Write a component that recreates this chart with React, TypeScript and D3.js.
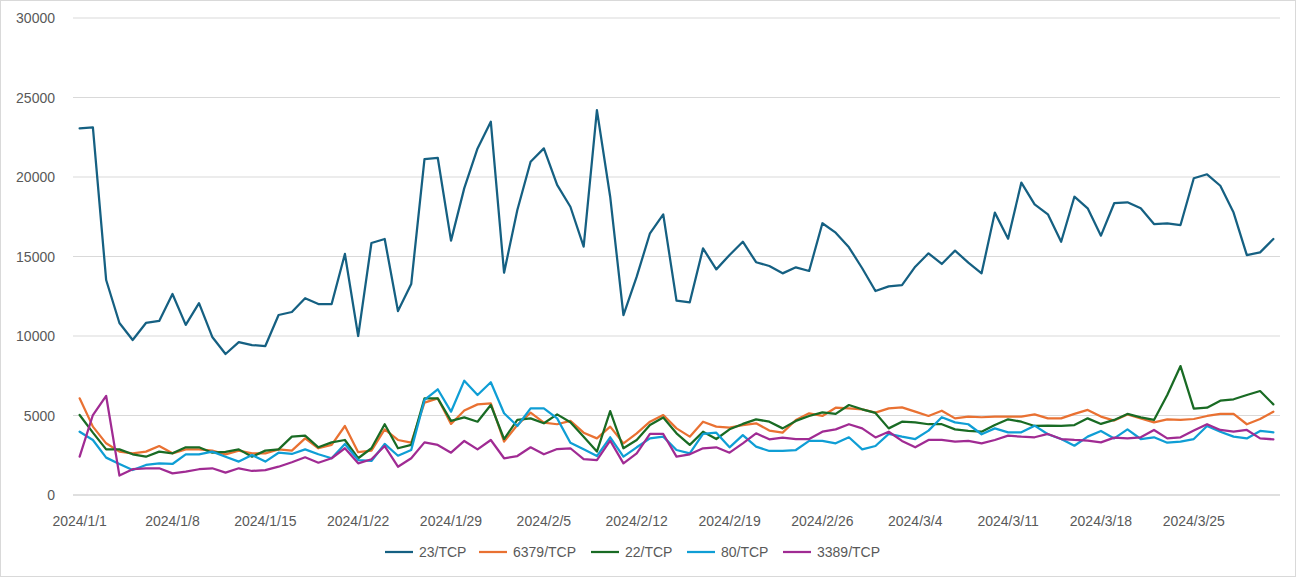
import React from 'react';
import * as d3 from 'd3';

const SERIES_NAMES = ['23/TCP', '6379/TCP', '22/TCP', '80/TCP', '3389/TCP'];
const COLORS = ['#156082', '#E97132', '#196B24', '#0F9ED5', '#A02B93'];

const tcp23 = [
  23060, 23120, 13520, 10820, 9750, 10820, 10950, 12640, 10700, 12070,
  9940, 8870, 9620, 9430, 9370, 11320, 11510, 12380, 12010, 12010,
  15160, 10000, 15850, 16100, 11570, 13270, 21130, 21210, 16000, 19300,
  21800, 23480, 13980, 17920, 20960, 21800, 19500, 18130, 15620, 24210,
  18760, 11320, 13730, 16460, 17650, 12220, 12120, 15510, 14190, 15090,
  15930, 14640, 14400, 13940, 14320, 14090, 17090, 16500, 15580, 14260,
  12830, 13120, 13200, 14360, 15200, 14530, 15370, 14610, 13940, 17760,
  16120, 19650, 18280, 17650, 15930, 18760, 18030, 16310, 18350, 18410,
  18030, 17040, 17090, 16980, 19920, 20170, 19450, 17760, 15090, 15260,
  16100,
];
const tcp6379 = [
  6080, 4300, 3250, 2730, 2620, 2730, 3080, 2620, 2870, 2870,
  2790, 2560, 2790, 2620, 2620, 2870, 2790, 3560, 2940, 3150,
  4340, 2690, 2790, 4130, 3460, 3290, 5810, 6080, 4470, 5310,
  5700, 5770, 3360, 4400, 5180, 4550, 4450, 4660, 3920, 3560,
  4300, 3250, 3880, 4610, 5030, 4190, 3670, 4610, 4300, 4240,
  4400, 4510, 4050, 3920, 4720, 5140, 4970, 5490, 5450, 5390,
  5180, 5450, 5510, 5240, 4970, 5300, 4820, 4930, 4890, 4930,
  4930, 4930, 5070, 4820, 4820, 5100, 5350, 4930, 4680, 5070,
  4820, 4570, 4760, 4720, 4780, 4970, 5100, 5100, 4450, 4780,
  5240,
];
const tcp22 = [
  5030, 3920, 2870, 2870, 2560, 2410, 2730, 2620, 3000, 3000,
  2660, 2710, 2870, 2410, 2790, 2870, 3670, 3730, 3000, 3310,
  3460, 2310, 2940, 4450, 2940, 3150, 6080, 6080, 4660, 4880,
  4610, 5660, 3520, 4720, 4820, 4510, 5070, 4570, 3670, 2730,
  5280, 2940, 3460, 4400, 4880, 3880, 3150, 3980, 3520, 4130,
  4470, 4760, 4610, 4190, 4660, 4970, 5200, 5100, 5660, 5390,
  5160, 4190, 4610, 4570, 4450, 4450, 4130, 4030, 3980, 4400,
  4760, 4610, 4340, 4360, 4340, 4400, 4820, 4470, 4720, 5100,
  4880, 4720, 6290, 8110, 5430, 5490, 5930, 6020, 6290, 6540,
  5700,
];
const tcp80 = [
  3980, 3460, 2350, 1950, 1570, 1890, 1990, 1950, 2560, 2560,
  2730, 2410, 2100, 2520, 2100, 2660, 2580, 2870, 2560, 2310,
  3210, 2200, 2140, 3210, 2470, 2830, 5980, 6650, 5240, 7190,
  6290, 7090, 5140, 4340, 5450, 5450, 4820, 3290, 2870, 2450,
  3630, 2410, 3000, 3560, 3670, 2830, 2620, 3840, 3920, 3000,
  3770, 3040, 2770, 2770, 2830, 3400, 3400, 3250, 3630, 2870,
  3080, 3840, 3670, 3520, 4050, 4890, 4570, 4450, 3820, 4190,
  3940, 3940, 4360, 3820, 3520, 3100, 3670, 4030, 3560, 4130,
  3520, 3630, 3290, 3360, 3520, 4340, 3980, 3670, 3560, 4030,
  3940,
];
const tcp3389 = [
  2410, 5030, 6230, 1220, 1620, 1680, 1680, 1360, 1470, 1620,
  1680, 1410, 1680, 1510, 1570, 1780, 2060, 2370, 2030, 2310,
  2940, 1990, 2250, 3080, 1780, 2310, 3310, 3150, 2660, 3400,
  2870, 3460, 2310, 2450, 3000, 2560, 2890, 2940, 2250, 2200,
  3420, 1990, 2620, 3840, 3840, 2410, 2560, 2940, 3000, 2660,
  3250, 3880, 3500, 3610, 3520, 3520, 3980, 4130, 4450, 4190,
  3620, 3980, 3400, 3000, 3460, 3460, 3360, 3400, 3250, 3460,
  3730, 3670, 3630, 3840, 3520, 3460, 3420, 3310, 3610, 3560,
  3630, 4090, 3560, 3630, 4050, 4450, 4090, 3980, 4090, 3560,
  3500,
];
const SERIES = [tcp23, tcp6379, tcp22, tcp80, tcp3389];
const Y_TICKS = [0, 5000, 10000, 15000, 20000, 25000, 30000];

const W = 1296;
const H = 577;
const M = { left: 73, right: 16, top: 18, bottom: 82 };
const FONT = '"Liberation Sans", Arial, sans-serif';

const dates = d3.range(91).map((i) => new Date(2024, 0, 1 + i));
const fmt = (d: Date) => `${d.getFullYear()}/${d.getMonth() + 1}/${d.getDate()}`;

export default function App() {
  const x = d3
    .scaleBand<number>()
    .domain(d3.range(dates.length))
    .range([M.left, W - M.right]);
  const y = d3.scaleLinear().domain([0, 30000]).range([H - M.bottom, M.top]);
  const cx = (i: number) => (x(i) as number) + x.bandwidth() / 2;
  const line = d3
    .line<number>()
    .x((_, i) => cx(i))
    .y((v) => y(v));

  const legendX = [385, 479, 591, 687, 783];

  return (
    <svg
      width={W}
      height={H}
      style={{ position: 'absolute', left: 0, top: 0, background: '#fff' }}
      fontFamily={FONT}
    >
      <rect x={0.5} y={0.5} width={W - 1} height={H - 1} fill="none" stroke="#d9d9d9" />
      {Y_TICKS.map((t) => (
        <g key={t}>
          {t > 0 && (
            <line x1={M.left} x2={W - M.right} y1={y(t)} y2={y(t)} stroke="#d9d9d9" strokeWidth={1} />
          )}
          <text x={55} y={y(t) + 5} textAnchor="end" fontSize={14} fill="#595959">
            {t}
          </text>
        </g>
      ))}
      <line x1={M.left} x2={W - M.right} y1={y(0)} y2={y(0)} stroke="#bfbfbf" />
      {dates.map((d, i) =>
        i % 7 === 0 ? (
          <text key={i} x={cx(i)} y={y(0) + 31} textAnchor="middle" fontSize={14} fill="#595959">
            {fmt(d)}
          </text>
        ) : null,
      )}
      {SERIES.map((s, k) => (
        <path
          key={k}
          d={line(s) || ''}
          fill="none"
          stroke={COLORS[k]}
          strokeWidth={2.25}
          strokeLinejoin="round"
          strokeLinecap="round"
        />
      ))}
      {SERIES_NAMES.map((n, k) => (
        <g key={n} transform={`translate(${legendX[k]},552)`}>
          <line x1={0} x2={28} y1={0} y2={0} stroke={COLORS[k]} strokeWidth={2.25} />
          <text x={34} y={5} fontSize={14} fill="#595959">
            {n}
          </text>
        </g>
      ))}
    </svg>
  );
}
